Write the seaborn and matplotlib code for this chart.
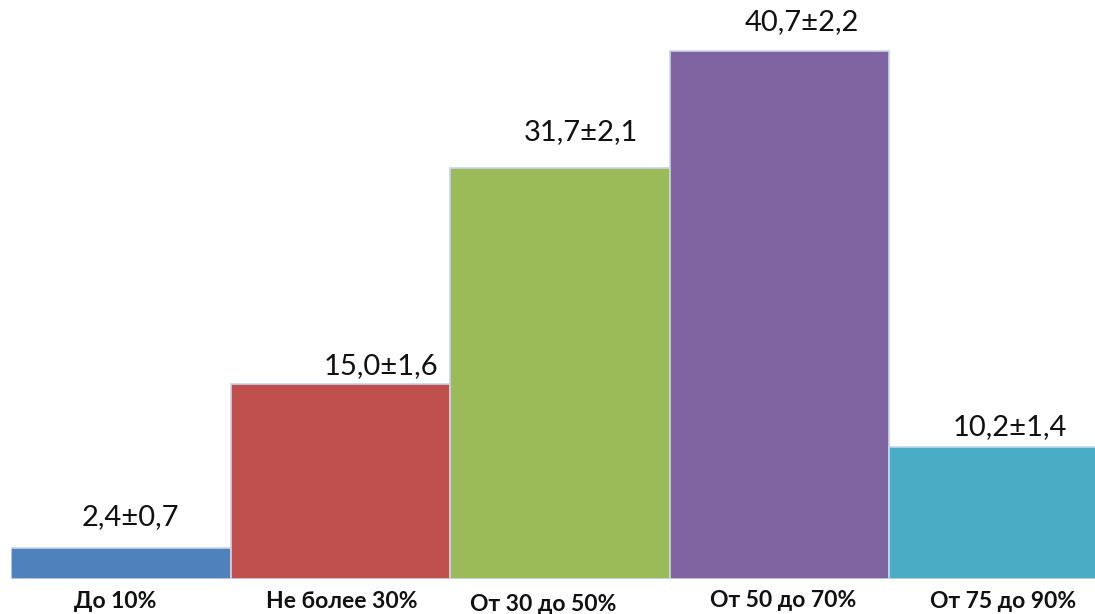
import matplotlib
matplotlib.use("Agg")
import matplotlib.pyplot as plt
import matplotlib.transforms as mtransforms
import seaborn as sns
import pandas as pd

categories = ["До 10%", "Не более 30%", "От 30 до 50%", "От 50 до 70%", "От 75 до 90%"]
values = [2.4, 15.0, 31.7, 40.7, 10.2]
errors = [0.7, 1.6, 2.1, 2.2, 1.4]
colors = ["#4f81bd", "#c0504d", "#9bbb59", "#8064a2", "#4bacc6"]

# label placement tweaks (points): horizontal shift, height above bar top
label_dx = [7, 29, 15, 16, 8]
label_dy = [22, 13, 26, 21, 14]
# category label nudges (points)
tick_dx = [-4, 1, -12, 3, 3]
tick_dy = [0, 0, -2, 1, 0]

sns.set_theme(style="white")
plt.rcParams["font.family"] = ["Lato", "DejaVu Sans"]

df = pd.DataFrame({"cat": categories, "val": values})

fig = plt.figure(figsize=(10.95, 6.14), dpi=100)
ax = fig.add_axes([11 / 1095, 35 / 614, (1108.5 - 11) / 1095, 579 / 614])

sns.barplot(data=df, x="cat", y="val", hue="cat", palette=colors, width=1.0,
            legend=False, edgecolor="#c6d6ec", linewidth=1.2, ax=ax,
            saturation=1)

ax.set_xlim(-0.5, 4.5)
ax.set_ylim(0, 579 / 12.97)

for i, (v, e) in enumerate(zip(values, errors)):
    txt = f"{v:.1f}±{e:.1f}".replace(".", ",")
    ax.annotate(txt, xy=(i, v), xytext=(label_dx[i], label_dy[i]),
                textcoords="offset points", ha="center", va="center",
                fontsize=21, color="#111111")

for s in ax.spines.values():
    s.set_visible(False)
ax.set_yticks([])
ax.set_xlabel("")
ax.set_ylabel("")
ax.tick_params(axis="x", length=0, pad=9)
ax.set_xticks(range(len(categories)))
ax.set_xticklabels(categories, fontsize=16.5, fontweight="bold", color="#111111")
for lbl, dx, dy in zip(ax.get_xticklabels(), tick_dx, tick_dy):
    lbl.set_transform(lbl.get_transform() +
                      mtransforms.ScaledTranslation(dx / 72, dy / 72, fig.dpi_scale_trans))

fig.savefig("out.png", dpi=100)
